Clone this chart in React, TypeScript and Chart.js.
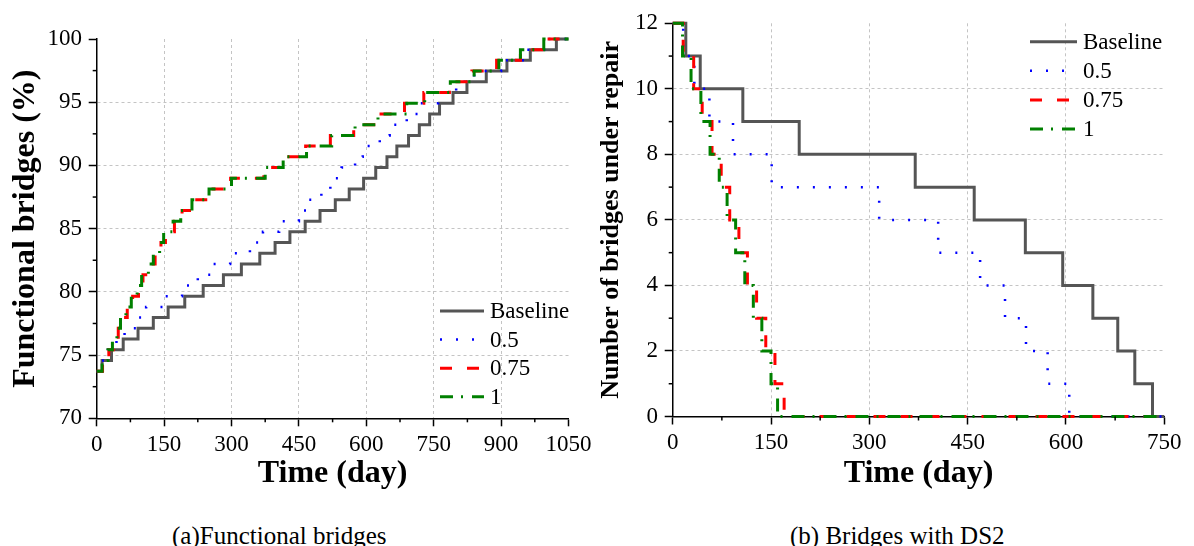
import React, { useEffect, useRef } from "react";
import { Chart, registerables } from "chart.js";

Chart.register(...registerables);

const FONT = '"Liberation Serif", "Times New Roman", serif';

const seriesNames = ["Baseline", "0.5", "0.75", "1"];

// (a) Functional bridges (%) — level reached after each repaired bridge
const functionalLevels = [
  73.73, 74.58, 75.42, 76.27, 77.12, 77.97, 78.81, 79.66, 80.51, 81.36, 82.2,
  83.05, 83.9, 84.75, 85.59, 86.44, 87.29, 88.14, 88.98, 89.83, 90.68, 91.53,
  92.37, 93.22, 94.07, 94.92, 95.76, 96.61, 97.46, 98.31, 99.15, 100,
];
// day at which each next level is reached
const functionalBaselineDays = [
  12, 33, 59, 92, 126, 159, 196, 237, 282, 322, 363, 397, 430, 464, 497, 531,
  562, 594, 621, 646, 668, 694, 718, 741, 763, 793, 824, 867, 913, 965, 1023,
];
const functional05Days = [
  10, 25, 44, 62, 91, 110, 148, 190, 225, 258, 297, 341, 370, 406, 450, 466,
  500, 520, 545, 575, 592, 630, 652, 690, 721, 760, 800, 840, 900, 951, 1001,
];
const functional075Days = [
  13, 27, 37, 48, 56, 68, 80, 93, 103, 118, 130, 143, 153, 173, 190, 215, 252,
  298, 372, 412, 465, 520, 572, 622, 685, 728, 785, 835, 890, 943, 997,
];
const functional1Days = [
  12, 25, 35, 45, 53, 65, 77, 90, 100, 115, 126, 140, 149, 170, 187, 212, 250,
  300, 375, 415, 467, 523, 575, 626, 690, 730, 787, 840, 895, 943, 995,
];

// (b) Bridges with DS2 — number under repair
const repairLevels = [12, 11, 10, 9, 8, 7, 6, 5, 4, 3, 2, 1, 0];
const repairBaselineDays = [20, 42, 107, 193, 370, 460, 538, 595, 641, 679, 705, 732];
const repair05Days = [16, 33, 56, 92, 151, 315, 405, 469, 507, 539, 572, 605];
const repair075Days = [16, 32, 45, 60, 74, 87, 101, 114, 128, 142, 156, 170];
const repair1Days = [15, 28, 43, 57, 71, 83, 96, 110, 123, 136, 150, 160];

const leftXLabels = [0, 150, 300, 450, 600, 750, 900, 1050];
const leftYLabels = [70, 75, 80, 85, 90, 95, 100];
const rightXLabels = [0, 150, 300, 450, 600, 750];
const rightYLabels = [0, 2, 4, 6, 8, 10, 12];

const styles = [
  { color: "#555555", width: 3, dash: [] as number[] },
  { color: "#0000ff", width: 2.5, dash: [2, 14] },
  { color: "#ff0000", width: 3, dash: [12, 15] },
  { color: "#008000", width: 3, dash: [13, 8, 2, 9] },
];

function buildSteps(levels: number[], days: number[], endX: number) {
  const pts = [{ x: 0, y: levels[0] }];
  days.forEach((d, i) => pts.push({ x: d, y: levels[i + 1] }));
  pts.push({ x: endX, y: levels[levels.length - 1] });
  return pts;
}

const legendPlugin = {
  id: "customLegend",
  afterDatasetsDraw(chart: any, _args: any, opts: any) {
    if (!opts || !opts.items) return;
    const ctx = chart.ctx;
    ctx.save();
    opts.items.forEach((it: any, i: number) => {
      const y = opts.y + i * opts.dy;
      ctx.beginPath();
      ctx.setLineDash(it.dash);
      ctx.strokeStyle = it.color;
      ctx.lineWidth = it.width;
      ctx.lineCap = "butt";
      ctx.moveTo(opts.x0, y);
      ctx.lineTo(opts.x1, y);
      ctx.stroke();
      ctx.setLineDash([]);
      ctx.fillStyle = "#000";
      ctx.font = `23px ${FONT}`;
      ctx.textBaseline = "middle";
      ctx.textAlign = "left";
      ctx.fillText(it.label, opts.textX, y + 1);
    });
    ctx.restore();
  },
};

const minorTickPlugin = {
  id: "minorTicks",
  afterDraw(chart: any) {
    const { ctx, chartArea, scales } = chart;
    ctx.save();
    ctx.strokeStyle = "#000";
    ctx.lineWidth = 1.5;
    ctx.setLineDash([]);
    scales.x.ticks.forEach((t: any) => {
      if (t.label !== "") return;
      const px = scales.x.getPixelForValue(t.value);
      ctx.beginPath();
      ctx.moveTo(px, chartArea.bottom);
      ctx.lineTo(px, chartArea.bottom + 4);
      ctx.stroke();
    });
    scales.y.ticks.forEach((t: any) => {
      if (t.label !== "") return;
      const py = scales.y.getPixelForValue(t.value);
      ctx.beginPath();
      ctx.moveTo(chartArea.left - 4, py);
      ctx.lineTo(chartArea.left, py);
      ctx.stroke();
    });
    ctx.restore();
  },
};

function axis(opts: {
  min: number;
  max: number;
  step: number;
  labels: number[];
  fit: (s: any) => void;
  title: string;
  titleSize: number;
  titlePadding: any;
}) {
  const isLabel = (v: number) => opts.labels.includes(v);
  return {
    type: "linear",
    min: opts.min,
    max: opts.max,
    afterFit: opts.fit,
    ticks: {
      stepSize: opts.step,
      autoSkip: false,
      maxRotation: 0,
      minRotation: 0,
      padding: 6.7,
      color: "#000",
      font: { family: FONT, size: 23, lineHeight: 1 },
      callback: (v: any) => (isLabel(Number(v)) ? String(v) : ""),
    },
    grid: {
      color: (c: any) => {
        if (!c.tick) return "rgba(0,0,0,0)";
        const v = c.tick.value;
        if (v === opts.min || v === opts.max || !isLabel(v)) return "rgba(0,0,0,0)";
        return "#c4c4c4";
      },
      tickColor: (c: any) => (c.tick && isLabel(c.tick.value) ? "#000" : "rgba(0,0,0,0)"),
      tickLength: 8,
      tickWidth: 1.5,
      lineWidth: 1,
      drawTicks: true,
    },
    border: { display: true, color: "#000", width: 1.5, dash: [3, 3] },
    title: {
      display: true,
      text: opts.title,
      color: "#000",
      font: { family: FONT, size: opts.titleSize, weight: "bold", lineHeight: 1.2 },
      padding: opts.titlePadding,
    },
  };
}

function makeDatasets(levels: number[], daysList: number[][], endX: number) {
  return daysList.map((days, i) => ({
    label: seriesNames[i],
    data: buildSteps(levels, days, endX),
    borderColor: styles[i].color,
    backgroundColor: styles[i].color,
    borderWidth: styles[i].width,
    borderDash: styles[i].dash,
    borderCapStyle: "butt",
    stepped: "before",
    pointRadius: 0,
    fill: false,
    tension: 0,
    order: 4 - i,
    clip: 4,
  }));
}

function legendItems() {
  return seriesNames.map((n, i) => ({ label: n, ...styles[i] }));
}

const W = 1194;
const H = 500;

export default function App() {
  const leftRef = useRef<HTMLCanvasElement>(null);
  const rightRef = useRef<HTMLCanvasElement>(null);

  useEffect(() => {
    const left = new Chart(leftRef.current as HTMLCanvasElement, {
      type: "line",
      data: {
        datasets: makeDatasets(
          functionalLevels,
          [functionalBaselineDays, functional05Days, functional075Days, functional1Days],
          1050
        ) as any,
      },
      options: {
        responsive: false,
        animation: false,
        events: [],
        layout: { padding: { left: 0, top: 39, right: W - 568.5, bottom: 0 } },
        scales: {
          x: axis({
            min: 0,
            max: 1050,
            step: 75,
            labels: leftXLabels,
            fit: (s: any) => {
              s.height = H - 418.3;
            },
            title: "Time (day)",
            titleSize: 32,
            titlePadding: { top: 0, bottom: 6.8 },
          }) as any,
          y: axis({
            min: 70,
            max: 100,
            step: 2.5,
            labels: leftYLabels,
            fit: (s: any) => {
              s.width = 96.7;
            },
            title: "Functional bridges (%)",
            titleSize: 32,
            titlePadding: { top: 7, bottom: 0 },
          }) as any,
        },
        plugins: {
          legend: { display: false },
          tooltip: { enabled: false },
          customLegend: { items: legendItems(), x0: 440, x1: 484, textX: 490, y: 311, dy: 28.6 },
        } as any,
      },
      plugins: [legendPlugin, minorTickPlugin],
    });

    const right = new Chart(rightRef.current as HTMLCanvasElement, {
      type: "line",
      data: {
        datasets: makeDatasets(
          repairLevels,
          [repairBaselineDays, repair05Days, repair075Days, repair1Days],
          750
        ) as any,
      },
      options: {
        responsive: false,
        animation: false,
        events: [],
        layout: { padding: { left: 590, top: 23.3, right: W - 1164.3, bottom: 0 } },
        scales: {
          x: axis({
            min: 0,
            max: 750,
            step: 75,
            labels: rightXLabels,
            fit: (s: any) => {
              s.height = H - 416.5;
            },
            title: "Time (day)",
            titleSize: 32,
            titlePadding: { top: 0, bottom: 6.8 },
          }) as any,
          y: axis({
            min: 0,
            max: 12,
            step: 1,
            labels: rightYLabels,
            fit: (s: any) => {
              s.width = 82.7;
            },
            title: "Number of bridges under repair",
            titleSize: 26,
            titlePadding: { top: 6, bottom: 0 },
          }) as any,
        },
        plugins: {
          legend: { display: false },
          tooltip: { enabled: false },
          customLegend: { items: legendItems(), x0: 1030, x1: 1077, textX: 1083, y: 41.7, dy: 29.1 },
        } as any,
      },
      plugins: [legendPlugin, minorTickPlugin],
    });

    return () => {
      left.destroy();
      right.destroy();
    };
  }, []);

  const canvasStyle: React.CSSProperties = { position: "absolute", left: 0, top: 0 };
  const captionStyle: React.CSSProperties = {
    position: "absolute",
    top: 521,
    fontFamily: FONT,
    fontSize: 25,
    lineHeight: "30px",
    color: "#000",
    whiteSpace: "nowrap",
  };

  return (
    <div
      style={{
        position: "absolute",
        left: 0,
        top: 0,
        width: W,
        height: 546,
        overflow: "hidden",
        background: "#fff",
      }}
    >
      <canvas ref={leftRef} width={W} height={H} style={canvasStyle} />
      <canvas ref={rightRef} width={W} height={H} style={canvasStyle} />
      <div style={{ ...captionStyle, left: 172 }}>(a)Functional bridges</div>
      <div style={{ ...captionStyle, left: 790 }}>(b) Bridges with DS2</div>
    </div>
  );
}
